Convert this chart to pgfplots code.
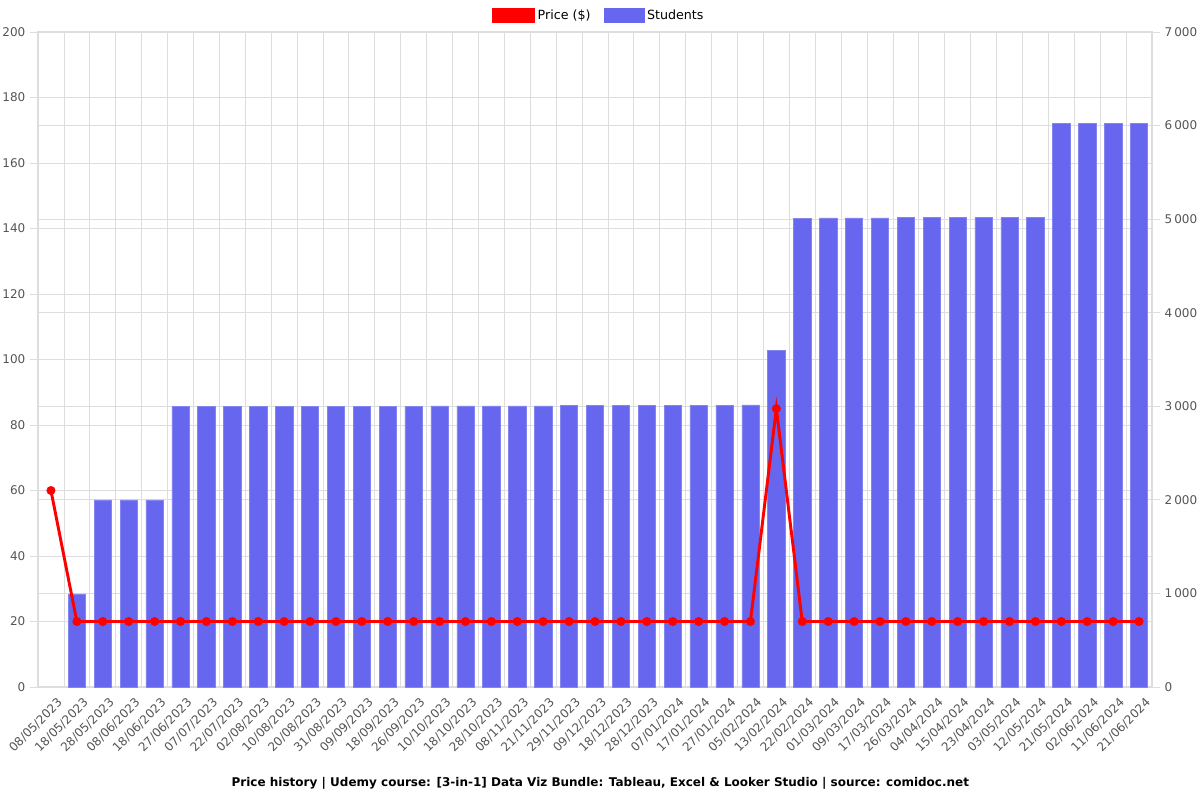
\documentclass[border=0pt]{standalone}
\usepackage{fontspec}
\setmainfont{DejaVu Sans}
\usepackage{pgfplots}
\usepackage{pgfplotstable}
\pgfplotsset{compat=1.18}

\definecolor{barblue}{RGB}{102,102,238}
\definecolor{gridgray}{RGB}{221,221,221}
\definecolor{ticktext}{RGB}{85,85,85}

\pgfplotstableread{
idx date price students
0 08/05/2023 60 nan
1 18/05/2023 20 995
2 28/05/2023 20 2000
3 08/06/2023 20 2000
4 18/06/2023 20 2000
5 27/06/2023 20 2995
6 07/07/2023 20 2997
7 22/07/2023 20 2998
8 02/08/2023 20 2999
9 10/08/2023 20 3000
10 20/08/2023 20 3001
11 31/08/2023 20 3002
12 09/09/2023 20 3002
13 18/09/2023 20 3003
14 26/09/2023 20 3003
15 10/10/2023 20 3004
16 18/10/2023 20 3004
17 28/10/2023 20 3004
18 08/11/2023 20 3005
19 21/11/2023 20 3005
20 29/11/2023 20 3006
21 09/12/2023 20 3007
22 18/12/2023 20 3008
23 28/12/2023 20 3009
24 07/01/2024 20 3010
25 17/01/2024 20 3012
26 27/01/2024 20 3013
27 05/02/2024 20 3015
28 13/02/2024 85 3600
29 22/02/2024 20 5012
30 01/03/2024 20 5013
31 09/03/2024 20 5014
32 17/03/2024 20 5014
33 26/03/2024 20 5015
34 04/04/2024 20 5017
35 15/04/2024 20 5018
36 23/04/2024 20 5019
37 03/05/2024 20 5020
38 12/05/2024 20 5021
39 21/05/2024 20 6022
40 02/06/2024 20 6024
41 11/06/2024 20 6025
42 21/06/2024 20 6026
}\data

\pgfplotsset{
  common/.style={
    scale only axis,
    width=835.5pt,
    height=491.25pt,
    xmin=-0.5, xmax=42.5,
    at={(0,0)}, anchor=south west,
    tick label style={font=\fontsize{9}{10}\selectfont, text=ticktext},
    /pgf/number format/assume math mode=true,
  },
}

\begin{document}
\begin{tikzpicture}
\path[use as bounding box] (-28.5pt,-84.75pt) rectangle (871.5pt,515.25pt);

% grid, left scale, date labels
\begin{axis}[
    common,
    ymin=0, ymax=200,
    ytick={0,20,...,200},
    ymajorgrids,
    extra y ticks={28.5714,57.1429,85.7143,114.2857,142.8571,171.4286},
    extra y tick labels={},
    extra y tick style={grid=major, major tick length=0pt},
    xtick={0,...,42},
    xticklabels from table={\data}{date},
    xticklabel style={rotate=45, anchor=north east, inner sep=1pt, yshift=-3pt, xshift=3pt},
    xtick style={draw=none},
    minor xtick={-0.5,0.5,...,42.5},
    xminorgrids,
    grid style={gridgray, line width=0.6pt},
    minor grid style={gridgray, line width=0.6pt},
    axis line style={gridgray, line width=0.8pt},
    ytick style={gridgray, line width=0.6pt},
    minor tick style={gridgray, line width=0.6pt},
    tick align=outside,
    major tick length=6pt,
    minor tick length=6pt,
    ytick pos=left,
    xtick pos=bottom,
    clip=false,
]
\addplot[draw=none, forget plot] table[x=idx, y=price] {\data};
\node[font=\bfseries\fontsize{9}{11}\selectfont, text=black]
  at (axis description cs:0.5048,0) [yshift=-72pt] {Price history | Udemy course: [3-in-1] Data Viz Bundle: Tableau, Excel \& Looker Studio | source: comidoc.net};
\end{axis}

% students bars, right scale
\begin{axis}[
    common,
    ymin=0, ymax=7000,
    ytick={0,1000,...,7000},
    axis y line*=right,
    axis x line=none,
    ytick style={gridgray, line width=0.6pt},
    tick align=outside,
    major tick length=6pt,
    axis line style={draw=none},
    /pgf/number format/1000 sep={\,},
    scaled y ticks=false,
]
\addplot[ybar, bar width=13pt, fill=barblue, draw=barblue!80!white, line width=0.4pt]
  table[x=idx, y=students] {\data};
\end{axis}

% price line, left scale
\begin{axis}[
    common,
    ymin=0, ymax=200,
    hide axis,
    legend style={
      at={(0.5036,1)}, anchor=south, yshift=4pt,
      draw=none, fill=none,
      font=\fontsize{9.5}{11}\selectfont,
      legend columns=2,
      /tikz/every even column/.append style={column sep=8pt},
    },
    legend cell align=left,
]
\addlegendimage{legend image code/.code={\fill[red] (0pt,-5.25pt) rectangle (32pt,5.25pt);}}
\addlegendentry{Price (\$)}
\addlegendimage{legend image code/.code={\fill[barblue] (0pt,-5.25pt) rectangle (30pt,5.25pt);}}
\addlegendentry{Students}
\addplot[red, line width=2.2pt, mark=*, mark size=2.2pt, forget plot]
  table[x=idx, y=price] {\data};
\end{axis}
\end{tikzpicture}
\end{document}
